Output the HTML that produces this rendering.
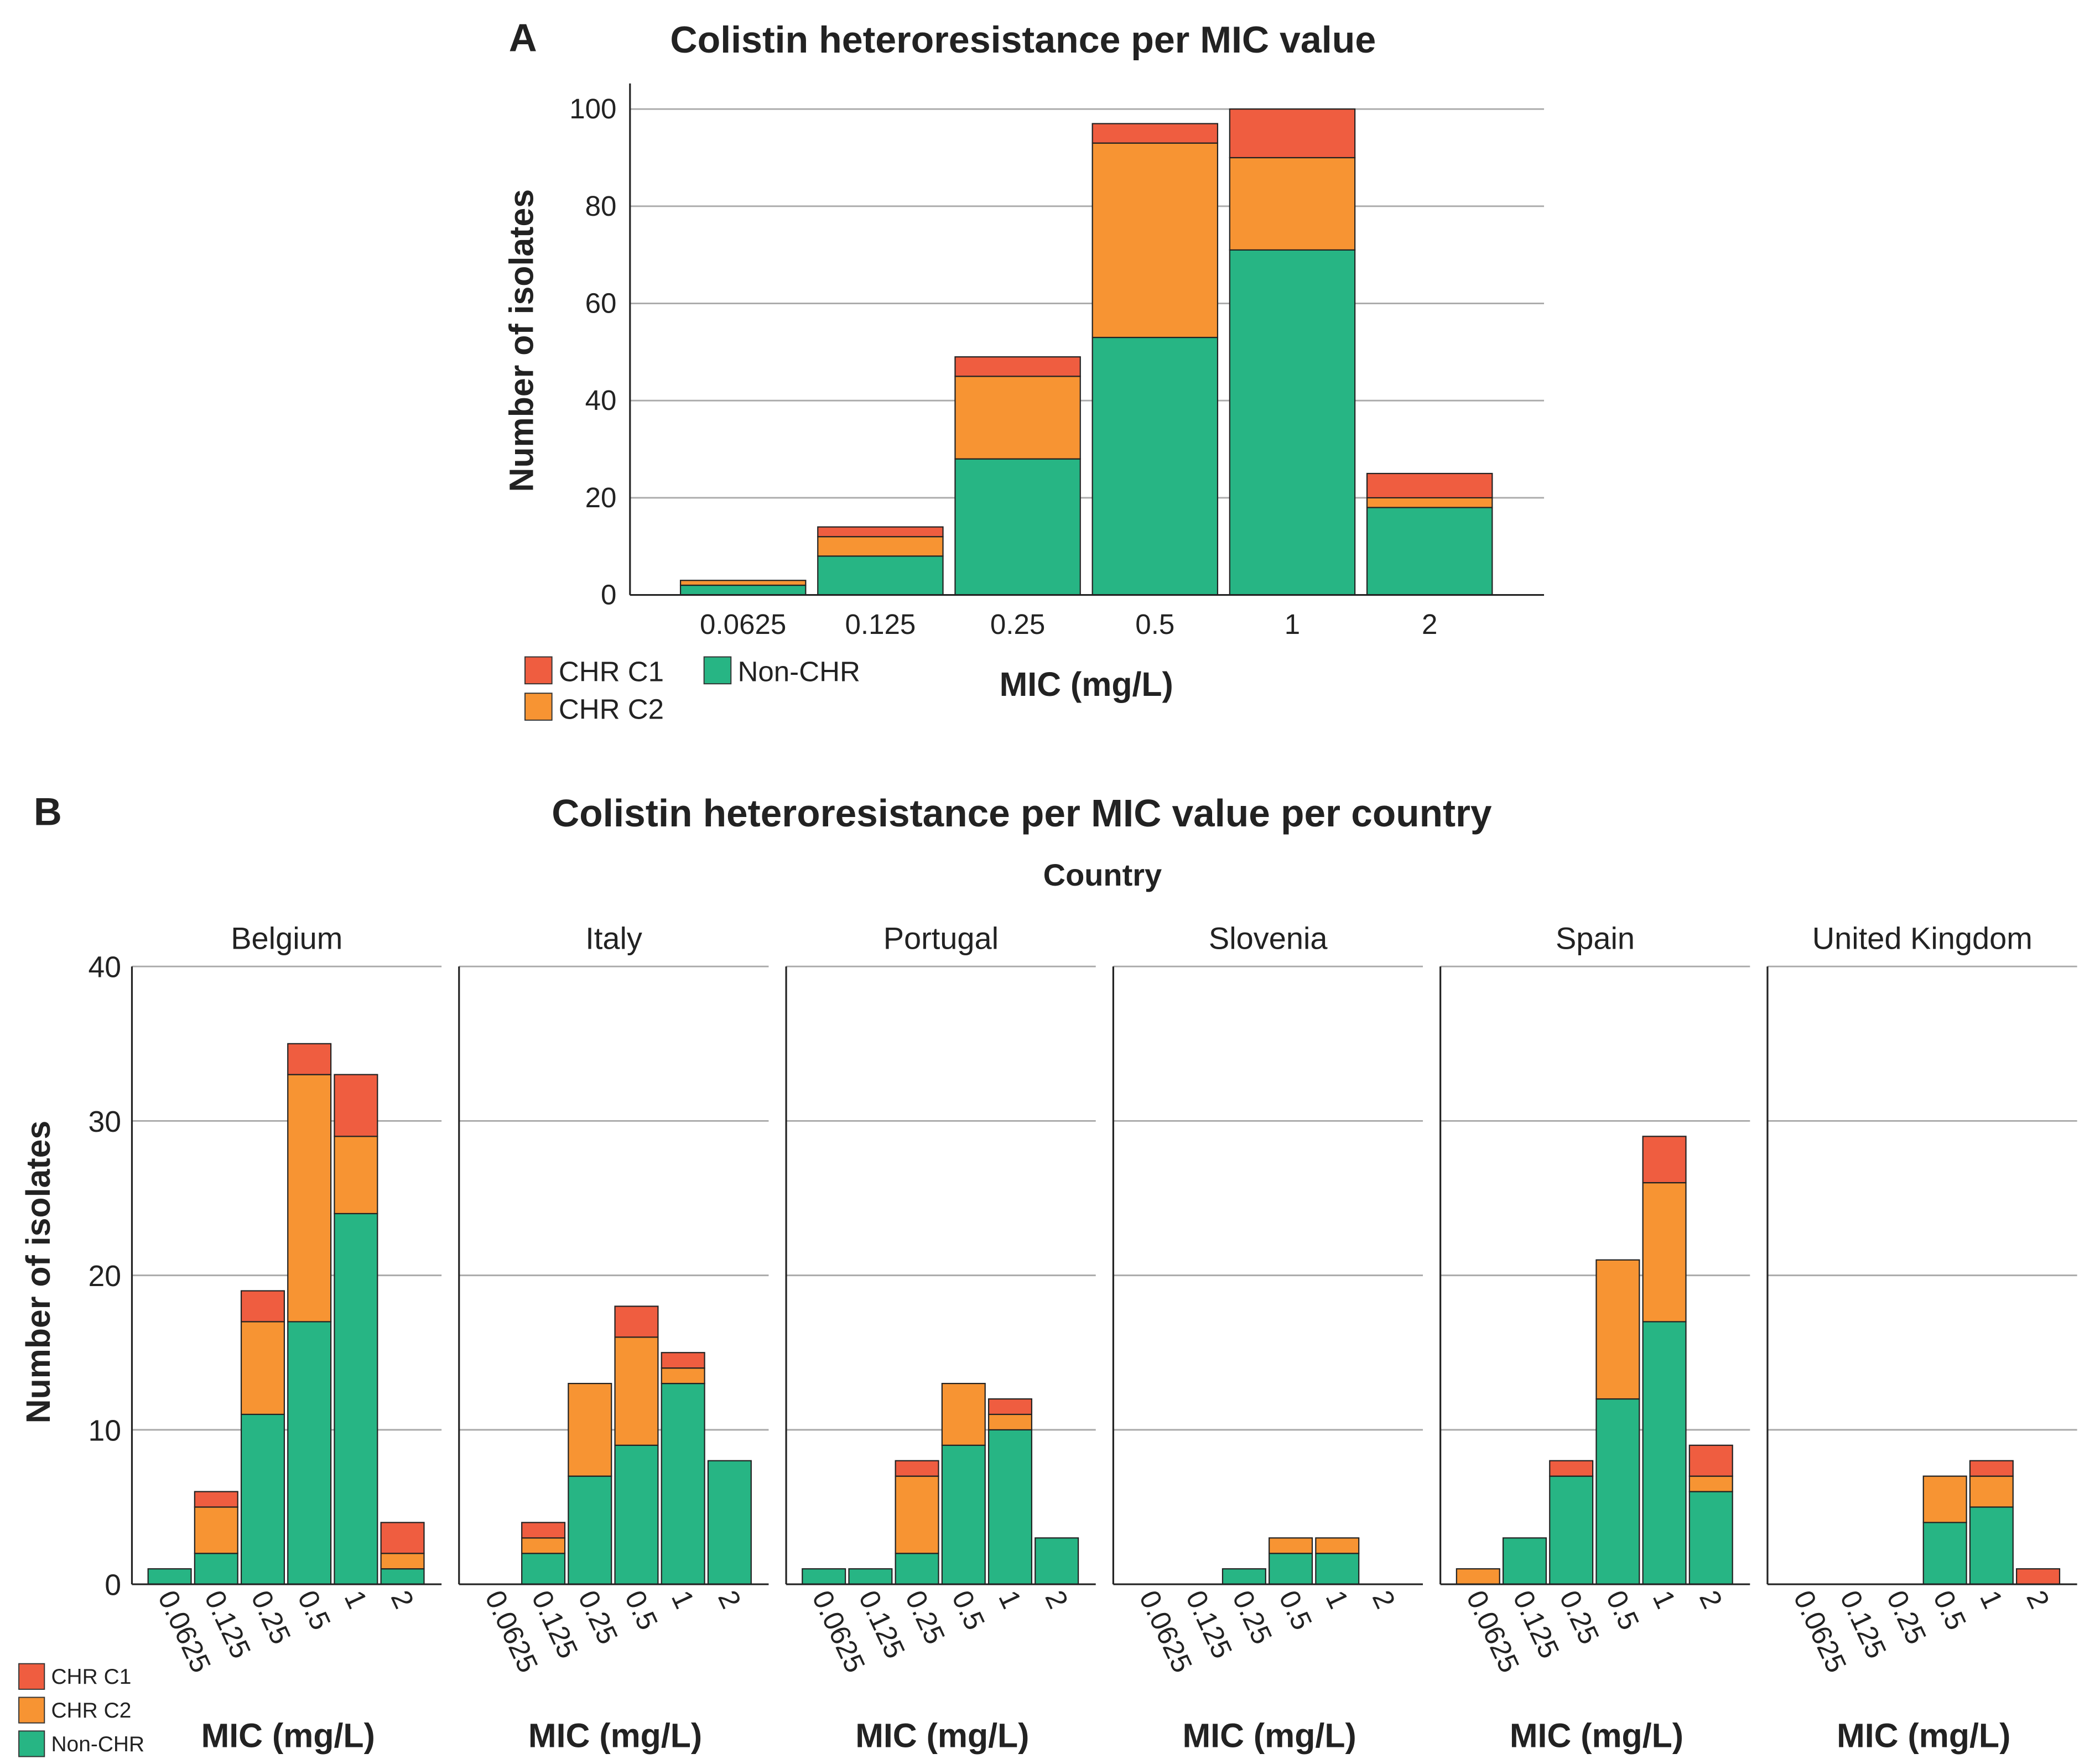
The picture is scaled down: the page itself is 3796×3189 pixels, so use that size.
<!DOCTYPE html>
<html><head><meta charset="utf-8"><style>
html,body{margin:0;padding:0;background:#fff}
svg{display:block;font-family:"Liberation Sans",sans-serif}
</style></head><body>
<svg id="chart" width="3796" height="3189" viewBox="0 0 1560 1310.5" xmlns="http://www.w3.org/2000/svg">
<text x="378" y="38" font-size="29" font-weight="bold" fill="#222">A</text>
<text x="760" y="39" font-size="28" font-weight="bold" fill="#222" text-anchor="middle">Colistin heteroresistance per MIC value</text>
<text transform="translate(396,253) rotate(-90)" font-size="25" font-weight="bold" fill="#222" text-anchor="middle">Number of isolates</text>
<text x="807" y="517" font-size="25" font-weight="bold" fill="#222" text-anchor="middle">MIC (mg/L)</text>
<g id="ga"></g>
<g font-size="21" fill="#222">
<rect x="390" y="488" width="20" height="20" fill="#ef5d40" stroke="#333" stroke-width="0.8"/><text x="415" y="506">CHR C1</text>
<rect x="390" y="515" width="20" height="20" fill="#f79433" stroke="#333" stroke-width="0.8"/><text x="415" y="534">CHR C2</text>
<rect x="523" y="488" width="20" height="20" fill="#27b584" stroke="#333" stroke-width="0.8"/><text x="548" y="506">Non-CHR</text>
</g>
<text x="25" y="613" font-size="29" font-weight="bold" fill="#222">B</text>
<text x="759" y="614" font-size="28.5" font-weight="bold" fill="#222" text-anchor="middle">Colistin heteroresistance per MIC value per country</text>
<text x="819" y="658" font-size="23" font-weight="bold" fill="#222" text-anchor="middle">Country</text>
<text transform="translate(37,945) rotate(-90)" font-size="25" font-weight="bold" fill="#222" text-anchor="middle">Number of isolates</text>
<g id="gb"></g>
<g font-size="16" fill="#222">
<rect x="14" y="1236" width="19" height="19" fill="#ef5d40" stroke="#333" stroke-width="0.8"/><text x="38" y="1251">CHR C1</text>
<rect x="14" y="1261" width="19" height="19" fill="#f79433" stroke="#333" stroke-width="0.8"/><text x="38" y="1276">CHR C2</text>
<rect x="14" y="1286" width="19" height="19" fill="#27b584" stroke="#333" stroke-width="0.8"/><text x="38" y="1301">Non-CHR</text>
</g>
</svg>
<script>
const micLabels = ["0.0625","0.125","0.25","0.5","1","2"];
const aNon = [2,8,28,53,71,18];
const aC2 = [1,4,17,40,19,2];
const aC1 = [0,2,4,4,10,5];
const aTicks = [0,20,40,60,80,100];
const countries = ["Belgium","Italy","Portugal","Slovenia","Spain","United Kingdom"];
const bNon = [[1,2,11,17,24,1],[0,2,7,9,13,8],[1,1,2,9,10,3],[0,0,1,2,2,0],[0,3,7,12,17,6],[0,0,0,4,5,0]];
const bC2 = [[0,3,6,16,5,1],[0,1,6,7,1,0],[0,0,5,4,1,0],[0,0,0,1,1,0],[1,0,0,9,9,1],[0,0,0,3,2,0]];
const bC1 = [[0,1,2,2,4,2],[0,1,0,2,1,0],[0,0,1,0,1,0],[0,0,0,0,0,0],[0,0,1,0,3,2],[0,0,0,0,1,1]];
const bTicks = [0,10,20,30,40];

const NS="http://www.w3.org/2000/svg";
const COLORS={non:"#27b584",c2:"#f79433",c1:"#ef5d40"};
function mk(parent,tag,attrs,text){const e=document.createElementNS(NS,tag);for(const k in attrs)e.setAttribute(k,attrs[k]);if(text!==undefined)e.textContent=text;parent.appendChild(e);return e;}

const ga=document.getElementById('ga');
const aY=v=>442-v*3.61, aX=i=>552+i*102;
aTicks.forEach(t=>{
  if(t>0){const l=mk(ga,'line',{x1:468,x2:1147,y1:aY(t),y2:aY(t),stroke:'#aaa','stroke-width':1.2});
  
  }
  const tx=mk(ga,'text',{x:458,y:aY(t)+7,'font-size':21,'text-anchor':'end',fill:'#222'},t);
  
  
});
micLabels.forEach((m,i)=>{
  let base=0;
  [[aNon,'non'],[aC2,'c2'],[aC1,'c1']].forEach(([arr,k])=>{
    const v=arr[i]; if(v<=0)return;
    const r=mk(ga,'rect',{x:aX(i)-46.5,width:93,y:aY(base+v),height:aY(base)-aY(base+v),fill:COLORS[k],stroke:'#222','stroke-width':0.9});
    
    
    base+=v;
  });
  const t=mk(ga,'text',{x:aX(i),y:471,'font-size':21,'text-anchor':'middle',fill:'#222'},m);
  
  
});
let ax=mk(ga,'line',{x1:468,x2:468,y1:62,y2:442,stroke:'#222','stroke-width':1.3});


ax=mk(ga,'line',{x1:468,x2:1147,y1:442,y2:442,stroke:'#222','stroke-width':1.3});



const gb=document.getElementById('gb');
const bY=v=>1177-v*11.475;
bTicks.forEach(t=>{
  const tx=mk(gb,'text',{x:90,y:bY(t)+8,'font-size':22,'text-anchor':'end',fill:'#222'},t);
  
  
});
countries.forEach((c,p)=>{
  const x0=98+p*243, w=230;
  const g=mk(gb,'g',{});
  
  
  bTicks.forEach(t=>{ if(t>0){const l=mk(g,'line',{x1:x0,x2:x0+w,y1:bY(t),y2:bY(t),stroke:'#aaa','stroke-width':1.2});
    
    }});
  const ct=mk(g,'text',{x:x0+w/2,y:705,'font-size':23,'text-anchor':'middle',fill:'#222'},c);
  
  
  const bx=i=>x0+28+i*34.6;
  micLabels.forEach((m,i)=>{
    let base=0;
    [[bNon[p],'non'],[bC2[p],'c2'],[bC1[p],'c1']].forEach(([arr,k])=>{
      const v=arr[i]; if(v<=0)return;
      const r=mk(g,'rect',{x:bx(i)-16,width:32,y:bY(base+v),height:bY(base)-bY(base+v),fill:COLORS[k],stroke:'#222','stroke-width':0.9});
      
      
      base+=v;
    });
    const t=mk(g,'text',{transform:`translate(${bx(i)-9},${1186}) rotate(65)`,'font-size':21,fill:'#222'},m);
    
    
  });
  let l=mk(g,'line',{x1:x0,x2:x0,y1:718,y2:1177,stroke:'#222','stroke-width':1.3});
  
  
  l=mk(g,'line',{x1:x0,x2:x0+w,y1:1177,y2:1177,stroke:'#222','stroke-width':1.3});
  
  
  const xt=mk(g,'text',{x:x0+w/2+1,y:1298,'font-size':25,'font-weight':'bold','text-anchor':'middle',fill:'#222'},'MIC (mg/L)');
  
  
});
</script>
</body></html>
